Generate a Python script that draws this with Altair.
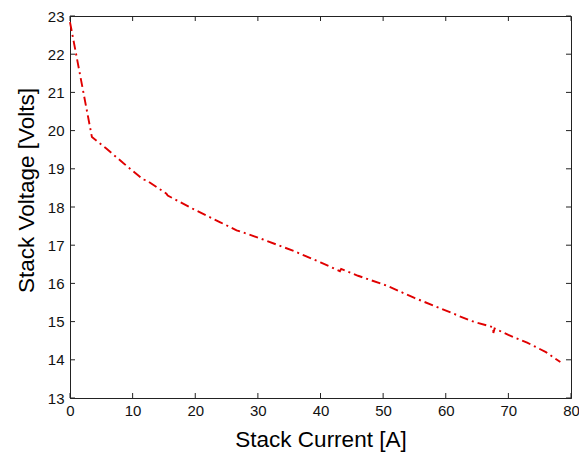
import altair as alt
import pandas as pd

# Data
current = [0.0, 3.5, 5.8, 8.5, 11.7, 12.2, 15.4, 15.6, 20.0, 24.0, 26.6, 27.7, 30.0,
           35.7, 40.0, 43.1, 43.3, 46.0, 50.6, 55.0, 60.9, 64.0, 67.6, 67.6, 67.8,
           70.0, 73.0, 76.0, 78.3]
voltage = [22.84, 19.83, 19.53, 19.15, 18.72, 18.70, 18.35, 18.30, 17.92, 17.60, 17.39,
           17.33, 17.20, 16.85, 16.55, 16.32, 16.38, 16.20, 15.94, 15.62, 15.23, 15.02,
           14.85, 14.70, 14.82, 14.65, 14.45, 14.20, 13.94]
x_ticks = [0, 10, 20, 30, 40, 50, 60, 70, 80]
y_ticks = [13, 14, 15, 16, 17, 18, 19, 20, 21, 22, 23]

W, H = 501, 382
TL = 5
FONT = "Liberation Sans"

df = pd.DataFrame({"current": current, "voltage": voltage, "order": list(range(len(current)))})
xt = pd.DataFrame({"current": x_ticks})
yt = pd.DataFrame({"voltage": y_ticks})

xenc = alt.X("current:Q",
             scale=alt.Scale(domain=[0, 80], nice=False, zero=False),
             axis=alt.Axis(title="Stack Current [A]", values=x_ticks, ticks=False,
                           labelFlush=False, labelPadding=5, titlePadding=10, grid=False))
yenc = alt.Y("voltage:Q",
             scale=alt.Scale(domain=[13, 23], nice=False, zero=False),
             axis=alt.Axis(title="Stack Voltage [Volts]", values=y_ticks, ticks=False,
                           labelFlush=False, labelPadding=6, titlePadding=9, titleY=174,
                           grid=False))

line = alt.Chart(df).mark_line(color="#e00000", strokeWidth=1.9,
                               strokeDash=[9, 4, 2, 4]).encode(
    x=xenc, y=yenc, order="order:Q")

tick_color = "#222222"
bottom = alt.Chart(xt).mark_rule(color=tick_color).encode(
    x=xenc, y=alt.value(H), y2=alt.value(H - TL))
top = alt.Chart(xt).mark_rule(color=tick_color).encode(
    x=xenc, y=alt.value(0), y2=alt.value(TL))
left = alt.Chart(yt).mark_rule(color=tick_color).encode(
    y=yenc, x=alt.value(0), x2=alt.value(TL))
right = alt.Chart(yt).mark_rule(color=tick_color).encode(
    y=yenc, x=alt.value(W), x2=alt.value(W - TL))

chart = alt.layer(line, bottom, top, left, right).properties(
    width=W, height=H,
    autosize=alt.AutoSizeParams(type="none"),
    padding={"left": 62, "top": 8, "right": 8, "bottom": 55},
    background="white",
).configure_view(
    stroke="#222222", strokeWidth=1
).configure_axis(
    domainColor="#222222", domainWidth=1,
    labelFont=FONT, labelFontSize=15, labelColor="#111111",
    titleFont=FONT, titleFontSize=22.5, titleFontWeight="normal", titleColor="#000000",
)

chart.save("out.html", embed_options={"renderer": "svg", "actions": False})
